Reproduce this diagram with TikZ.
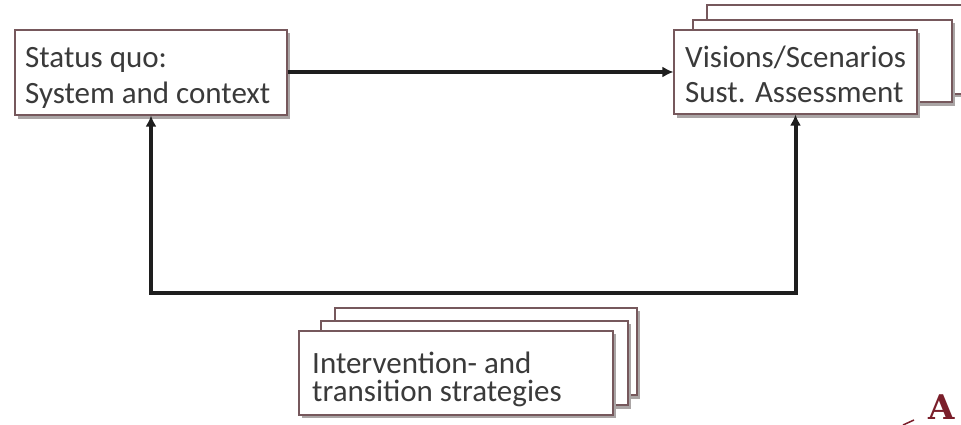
\documentclass[tikz,border=0pt]{standalone}
\usepackage{fontspec}
\setmainfont{Carlito}
\newfontfamily\serifbold{DejaVu Serif}
\usetikzlibrary{arrows.meta}
\definecolor{txt}{RGB}{58,58,58}
\definecolor{edge}{RGB}{118,88,92}
\definecolor{shad}{RGB}{170,165,165}
\definecolor{linec}{RGB}{30,30,30}
\definecolor{darkred}{RGB}{122,30,42}
\begin{document}
\begin{tikzpicture}[x=1pt,y=-1pt,
  boxbg/.style={fill=white,draw=edge,line width=1.1pt},
  shadowbox/.style={fill=shad,draw=none},
  lbl/.style={anchor=base west,inner sep=0pt,text=txt,font=\fontsize{31}{36}\selectfont},
  conn/.style={draw=linec,line width=4pt,line join=miter,{Latex[length=11pt,width=11pt]}-{Latex[length=11pt,width=11pt]}},
  conn1/.style={draw=linec,line width=4pt,-{Latex[length=11pt,width=11pt]}}
]
\useasboundingbox (0,0) rectangle (961,425);
\fill[white] (0,0) rectangle (961,425);

% ---- Box 1: Status quo
\fill[shadowbox] (18,33) rectangle (290,119);
\node[boxbg,minimum width=272pt,minimum height=85pt,inner sep=0pt] (box1) at (151,72.5) {};
\node[lbl] (t1a) at (25,68) {Status quo:};
\node[lbl] (t1b) at (25,104) {System and context};

% ---- Box 2: stacked Visions / Scenarios
\begin{scope}
\clip (0,0) rectangle (961,425);
\fill[shadowbox] (710,8) rectangle (990,97);
\draw[boxbg] (707,5) rectangle (985,94);
\fill[shadowbox] (696,23) rectangle (955,106);
\draw[boxbg] (693,20) rectangle (952,102);
\end{scope}
\fill[shadowbox] (677,33) rectangle (920,118);
\node[boxbg,minimum width=243pt,minimum height=84pt,inner sep=0pt] (box2) at (795.5,72) {};
\node[lbl] (t2a) at (685,68) {Visions/Scenarios};
\node[lbl] (t2b) at (685,103) {Sust. Assessment};

% ---- Box 3: stacked Intervention strategies
\fill[shadowbox] (338,311) rectangle (640,399);
\draw[boxbg] (335,308) rectangle (637,395);
\fill[shadowbox] (323,324) rectangle (631,409);
\draw[boxbg] (321,321) rectangle (628,405);
\fill[shadowbox] (302,334) rectangle (616,418);
\node[boxbg,minimum width=314pt,minimum height=84pt,inner sep=0pt] (box3) at (456,373) {};
\node[lbl] (t3a) at (312,373) {Intervention- and};
\node[lbl] (t3b) at (312,401) {transition strategies};

% ---- Connectors
\coordinate (low) at (470,293);
\draw[conn1] (box1.east |- 0,72) -- (box2.west |- 0,72);
\draw[conn] (box1.south) -- (box1.south |- low) -- (box2.south |- low) -- (box2.south);

% ---- Corner label
\node[anchor=base west,inner sep=0pt,text=darkred,font=\serifbold\bfseries\fontsize{34}{34}\selectfont] (lblA) at (928,419) {A};
\coordinate (m1) at (903,425);
\coordinate (m2) at (914,420);
\draw[darkred,line width=1.5pt] (m1) -- (m2);
\end{tikzpicture}
\end{document}
